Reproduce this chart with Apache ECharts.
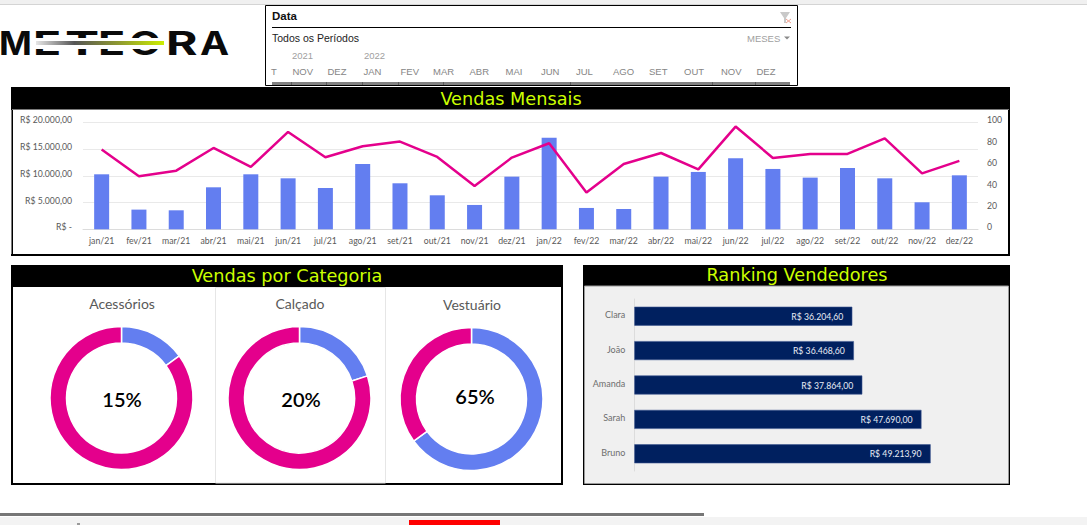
<!DOCTYPE html>
<html>
<head>
<meta charset="utf-8">
<title>Meteora - Vendas</title>
<script src="https://cdn.jsdelivr.net/npm/echarts@6/dist/echarts.min.js"></script>
<style>
  html, body { margin: 0; padding: 0; background: #fff; overflow: hidden; }
  #main { width: 1087px; height: 525px; }
</style>
</head>
<body>
<div id="main"></div>
<script>
// dados
const meses = ['jan/21','fev/21','mar/21','abr/21','mai/21','jun/21','jul/21','ago/21','set/21','out/21','nov/21','dez/21',
               'jan/22','fev/22','mar/22','abr/22','mai/22','jun/22','jul/22','ago/22','set/22','out/22','nov/22','dez/22'];
const vendas = [10280,3680,3550,7850,10280,9530,7725,12210,8600,6355,4550,9840,
                17130,3990,3800,9840,10720,13270,11280,9660,11460,9530,5050,10090];
const quantidade = [74.5,49.5,54.8,76,58.3,91,67.3,77.6,82,67.6,40.5,67,
                    80.4,34.3,61,71.3,56,96,66.7,70.4,70.4,85,52.3,63.9];
const categorias = ['Acessórios','Calçado','Vestuário'];
const categoriasPct = [15,20,65];
const vendedores = ['Clara','João','Amanda','Sarah','Bruno'];
const vendedoresTotal = [36204.60,36468.60,37864.00,47690.00,49213.90];
const anosFiltro = ['2021','2022'];
const mesesFiltro = ['T','NOV','DEZ','JAN','FEV','MAR','ABR','MAI','JUN','JUL','AGO','SET','OUT','NOV','DEZ'];

const AZUL = '#637ef0';
const ROSA = '#e4008c';
const LIMA = '#ccff00';
const CINZA = '#595959';
const FONTE = 'Lato';

function moeda(v) {
    const partes = v.toFixed(2).split('.');
    return 'R$ ' + partes[0].replace(/\B(?=(\d{3})+$)/g, '.') + ',' + partes[1];
}

function caixa(x, y, w, h, fill, stroke, lineWidth) {
    return { type: 'rect', shape: { x, y, width: w, height: h }, z: 0,
             style: { fill: fill || 'transparent', stroke: stroke || 'transparent', lineWidth: lineWidth || 0 } };
}
function texto(text, x, y, font, fill, align) {
    return { type: 'text', x, y, z: 5,
             style: { text, font, fill, align: align || 'left', verticalAlign: 'middle' } };
}
function linha(x1, y1, x2, y2, stroke, lineWidth) {
    return { type: 'line', shape: { x1, y1, x2, y2 }, z: 5, style: { stroke, lineWidth: lineWidth || 1 } };
}

const graficos = [];

// barras do topo e do rodape da janela
graficos.push(caixa(0, 0, 1087, 4, '#f0f0f0'));
graficos.push(caixa(0, 4, 1087, 1, '#d4d4d4'));
graficos.push(caixa(0, 513, 704, 3, '#767676'));
graficos.push(caixa(0, 517, 1087, 8, '#f3f3f3'));
graficos.push(caixa(409, 520, 91, 5, '#ff0000'));
graficos.push(caixa(77, 523, 3, 2, '#9a9a9a'));

// logo
const letrasLogo = [['M',-1,1.1],['E',33,1.45],['T',65,1.6],['E',98,1.4],['O',129,1.3],['R',166,1.5],['A',200,1.22]];
letrasLogo.forEach(function (l) {
    graficos.push({ type: 'text', x: l[1], y: 43.5, scaleX: l[2], z: 5,
        style: { text: l[0], font: '700 32px Inter', fill: '#0a0a0a', align: 'left', verticalAlign: 'middle' } });
});
graficos.push({ type: 'rect', shape: { x: 34, y: 38, width: 131, height: 11 }, z: 6, style: { fill: '#fff' } });
graficos.push({ type: 'rect', shape: { x: 36, y: 41, width: 128, height: 4 }, z: 7,
    style: { fill: new echarts.graphic.LinearGradient(0, 0, 1, 0, [
        { offset: 0, color: '#e6e6e6' }, { offset: 0.3, color: '#555555' },
        { offset: 0.65, color: '#8f9a30' }, { offset: 1, color: '#ccee00' }]) } });

// filtro de data
graficos.push(caixa(265.5, 5.5, 532, 80, '#fff', '#000', 1));
graficos.push(texto('Data', 272, 16, 'bold 11.5px "Liberation Sans"', '#111'));
graficos.push(linha(272, 27.5, 791, 27.5, '#000', 1));
graficos.push(texto('Todos os Períodos', 272, 38, '10.5px "Liberation Sans"', '#222'));
graficos.push(texto('MESES', 747, 38, '9.5px "Liberation Sans"', '#a0a0a0'));
graficos.push({ type: 'polygon', shape: { points: [[784, 36.5], [790, 36.5], [787, 39.5]] }, z: 5, style: { fill: '#8a8a8a' } });
graficos.push({ type: 'polygon', shape: { points: [[780, 12], [790, 12], [786, 18], [786, 23], [784, 23], [784, 18]] }, z: 5, style: { fill: '#c9c9c9' } });
graficos.push(linha(786, 19, 791, 23, '#f0a090', 1));
graficos.push(linha(791, 19, 786, 23, '#f0a090', 1));
const xAnos = [292, 364];
anosFiltro.forEach(function (a, i) {
    graficos.push(texto(a, xAnos[i], 55.5, '9.5px "Liberation Sans"', '#a0a0a0'));
});
const xMeses = [271, 292.5, 327.5, 363.5, 400.5, 433, 469.5, 505.5, 541, 576, 613, 649, 684, 721, 756.5];
mesesFiltro.forEach(function (m, i) {
    graficos.push(texto(m, xMeses[i], 71.5, '9.5px "Liberation Sans"', '#858585'));
});
graficos.push(caixa(272, 82, 518, 3, '#808080'));
[291, 326, 362, 398, 443, 570, 712, 755].forEach(function (x) {
    graficos.push(caixa(x, 82, 1, 3, '#5a5a5a'));
});

// paineis
function painel(x, y, w, h, hCab, titulo, fundo, cx, yTitulo) {
    graficos.push(caixa(x + 1, y + 1, w - 2, h - 2, fundo, '#000', 2));
    graficos.push(caixa(x, y, w, hCab, '#000'));
    graficos.push(texto(titulo, cx, yTitulo, '17.7px "DejaVu Sans"', LIMA, 'center'));
}
painel(11, 87, 999, 169, 22, 'Vendas Mensais', '#fff', 511, 99);
graficos.push(caixa(12, 109, 997, 1, '#7a7a7a'));
graficos.push(caixa(11, 110, 1, 144, '#7a7a7a'));
painel(11, 265, 552, 220, 22, 'Vendas por Categoria', '#fff', 287, 275.5);
graficos.push(caixa(215.5, 287.5, 170, 195.5, 'transparent', '#e6e6e6', 1));
painel(583, 265, 427, 220, 21, 'Ranking Vendedores', '#f0f0f0', 797, 275);
graficos.push(caixa(584.5, 286, 424, 197.5, 'transparent', '#9a9a9a', 1));

// rosca: centro e posicao do texto de cada categoria
const centros = [[121.5, 398], [299.5, 398], [471.5, 399]];
const posTitulo = [[122, 303.5], [300, 303.5], [472, 304.5]];
const posPct = [[122, 399], [301, 399], [475, 396]];
categorias.forEach(function (c, i) {
    graficos.push(texto(c, posTitulo[i][0], posTitulo[i][1], '14px ' + FONTE, CINZA, 'center'));
    graficos.push(texto(categoriasPct[i] + '%', posPct[i][0], posPct[i][1], '600 20px ' + FONTE, '#000', 'center'));
});
const roscas = categorias.map(function (c, i) {
    return {
        type: 'pie',
        name: c,
        center: centros[i],
        radius: [55, 71.5],
        startAngle: 90,
        silent: true,
        label: { show: false },
        labelLine: { show: false },
        itemStyle: { borderColor: '#fff', borderWidth: 1.5 },
        data: [
            { value: categoriasPct[i], name: c, itemStyle: { color: AZUL } },
            { value: 100 - categoriasPct[i], name: 'Outros', itemStyle: { color: ROSA } }
        ]
    };
});

const chart = echarts.init(document.getElementById('main'), null, { renderer: 'svg' });

const option = {
    animation: false,
    backgroundColor: '#fff',
    textStyle: { fontFamily: FONTE },
    graphic: { elements: graficos },
    grid: [
        { left: 83, top: 122.3, width: 895, height: 107 },
        { left: 634.3, top: 299, width: 361.3, height: 172 }
    ],
    xAxis: [
        {
            type: 'category',
            gridIndex: 0,
            data: meses,
            axisTick: { show: false },
            axisLine: { lineStyle: { color: '#dcdcdc', width: 1 } },
            axisLabel: { color: CINZA, fontSize: 8.7, margin: 7, interval: 0, fontFamily: FONTE }
        },
        { type: 'value', gridIndex: 1, min: 0, max: 60000, show: false }
    ],
    yAxis: [
        {
            type: 'value',
            gridIndex: 0,
            min: 0,
            max: 20000,
            interval: 5000,
            axisLine: { show: false },
            axisTick: { show: false },
            splitLine: { lineStyle: { color: '#e9e9e9', width: 1 } },
            axisLabel: {
                color: CINZA, fontSize: 8.7, margin: 11, verticalAlign: 'bottom', lineHeight: 5, fontFamily: FONTE,
                formatter: function (v) { return v === 0 ? 'R$ -' : moeda(v); }
            }
        },
        {
            type: 'value',
            gridIndex: 0,
            position: 'right',
            min: 0,
            max: 100,
            interval: 20,
            axisLine: { show: false },
            axisTick: { show: false },
            splitLine: { show: false },
            axisLabel: { color: CINZA, fontSize: 8.7, margin: 9, verticalAlign: 'bottom', lineHeight: 5, fontFamily: FONTE }
        },
        {
            type: 'category',
            gridIndex: 1,
            inverse: true,
            data: vendedores,
            axisTick: { show: false },
            axisLine: { lineStyle: { color: '#dcdcdc', width: 1 } },
            axisLabel: { color: '#6e6e6e', fontSize: 9, margin: 9, verticalAlign: 'bottom', lineHeight: 3, fontFamily: FONTE }
        }
    ],
    series: [
        {
            type: 'bar',
            name: 'Vendas',
            xAxisIndex: 0,
            yAxisIndex: 0,
            data: vendas,
            barWidth: 15,
            itemStyle: { color: AZUL }
        },
        {
            type: 'line',
            name: 'Quantidade',
            xAxisIndex: 0,
            yAxisIndex: 1,
            data: quantidade,
            symbol: 'none',
            z: 3,
            lineStyle: { color: ROSA, width: 2.5 }
        },
        {
            type: 'bar',
            name: 'Ranking',
            xAxisIndex: 1,
            yAxisIndex: 2,
            data: vendedoresTotal,
            barWidth: 19,
            itemStyle: { color: '#00205f', borderColor: '#3c5690', borderWidth: 0.6 },
            label: {
                show: true,
                position: 'insideRight',
                distance: 9,
                color: '#e8ecf5',
                fontSize: 8.7,
                fontFamily: FONTE,
                formatter: function (p) { return moeda(p.value); }
            }
        }
    ].concat(roscas)
};

chart.setOption(option);
</script>
</body>
</html>
